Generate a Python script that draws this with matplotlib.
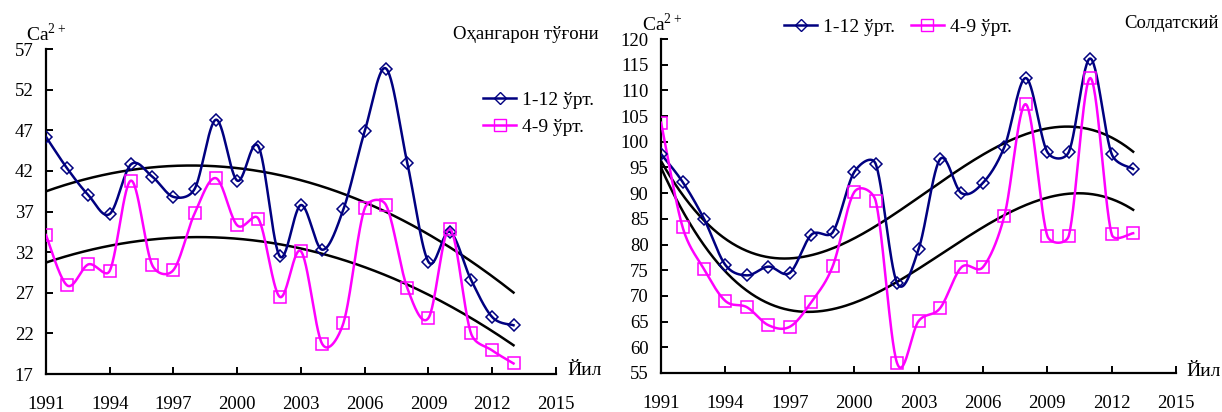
import matplotlib
matplotlib.use("Agg")
import matplotlib.pyplot as plt
import numpy as np

plt.rcParams['font.family'] = ['Liberation Serif', 'DejaVu Serif']
plt.rcParams['font.size'] = 13
plt.rcParams['mathtext.fontset'] = 'custom'
plt.rcParams['mathtext.rm'] = 'Liberation Serif'

years = list(range(1991, 2014))

# Оҳангарон тўғони
ohan_all = [46.2, 42.3, 39.0, 36.7, 42.8, 41.3, 38.8, 39.8, 48.3, 40.8, 45.0, 31.5,
            37.8, 32.3, 37.3, 46.9, 54.6, 43.0, 30.8, 34.5, 28.6, 24.0, 23.0]
ohan_veg = [34.1, 27.9, 30.5, 29.7, 40.8, 30.4, 29.8, 36.8, 41.1, 35.3, 36.1, 26.5,
            32.1, 20.7, 23.3, 37.4, 37.8, 27.6, 23.9, 34.9, 22.0, 19.9, 18.3]

# Солдатский
sold_all = [97.6, 92.2, 85.0, 76.0, 74.0, 75.7, 74.5, 81.9, 82.4, 94.1, 95.7, 72.5,
            79.1, 96.6, 90.0, 92.0, 99.0, 112.4, 98.0, 98.0, 116.2, 97.6, 94.7]
sold_veg = [103.7, 83.4, 75.2, 69.0, 67.8, 64.3, 64.0, 68.8, 75.8, 90.2, 88.5, 56.9,
            65.1, 67.6, 75.6, 75.6, 85.6, 107.3, 81.7, 81.7, 112.4, 82.0, 82.2]

label_all = '1-12 ўрт.'
label_veg = '4-9 ўрт.'
navy = '#000080'
pink = '#FF00FF'


def smooth(ax, x, y, n=30, lim=0.45):
    # bezier smoothing like excel, done in screen space
    pts = ax.transData.transform(np.column_stack([x, y]))
    P = np.vstack([pts[0], pts, pts[-1]])
    out = []
    t = np.linspace(0, 1, n, endpoint=False)[:, None]
    for i in range(1, len(P) - 2):
        p0, p1, p2, p3 = P[i - 1], P[i], P[i + 1], P[i + 2]
        d12 = np.hypot(*(p2 - p1))
        v1 = (p2 - p0) / 6
        v2 = (p3 - p1) / 6
        for v in (v1, v2):
            ln = np.hypot(*v)
            if ln > lim * d12:
                v *= lim * d12 / ln
        c1 = p1 + v1
        c2 = p2 - v2
        out.append((1 - t) ** 3 * p1 + 3 * (1 - t) ** 2 * t * c1 + 3 * (1 - t) * t ** 2 * c2 + t ** 3 * p2)
    out.append(pts[-1:])
    out = ax.transData.inverted().transform(np.vstack(out))
    return out[:, 0], out[:, 1]


def draw(ax, s_all, s_veg, deg, ylim, yticks):
    ax.set_xlim(1991, 2015)
    ax.set_ylim(*ylim)
    for vals, col, mk, ms, lab in ((s_all, navy, 'D', 6.5, label_all), (s_veg, pink, 's', 8.5, label_veg)):
        sx, sy = smooth(ax, years, vals)
        ax.plot(sx, sy, color=col, lw=1.8, zorder=3)
        ax.plot(years, vals, ls='none', marker=mk, ms=ms, mfc='none', mec=col, mew=1.1, zorder=4)
        ax.plot([], [], color=col, lw=1.8, marker=mk, ms=ms, mfc='none', mec=col, label=lab)
        c = np.polyfit(years, vals, deg)
        tx = np.linspace(years[0], years[-1], 200)
        ax.plot(tx, np.polyval(c, tx), color='black', lw=1.8, zorder=2)
    ax.set_xticks(range(1991, 2016, 3))
    ax.set_yticks(yticks)
    for s in ('top', 'right'):
        ax.spines[s].set_visible(False)
    for s in ('left', 'bottom'):
        ax.spines[s].set_linewidth(1.6)
    ax.tick_params(direction='in', length=5, width=1.4, labelsize=13.5)
    ax.tick_params(axis='x', pad=16)
    ax.tick_params(axis='y', pad=9)


fig = plt.figure(figsize=(12.22, 4.12), dpi=100)
ax1 = fig.add_axes([0.0376, 0.0922, 0.4174, 0.7888])
ax2 = fig.add_axes([0.541, 0.0947, 0.4214, 0.8106])

draw(ax1, ohan_all, ohan_veg, 2, (17, 57), range(17, 58, 5))
draw(ax2, sold_all, sold_veg, 3, (55, 120), range(55, 121, 5))

fig.text(0.021, 0.9, 'Ca$^{2+}$', fontsize=14)
fig.text(0.525, 0.925, 'Ca$^{2+}$', fontsize=14)
fig.text(0.464, 0.09, 'Йил', fontsize=14)
fig.text(0.971, 0.088, 'Йил', fontsize=14)
fig.text(0.49, 0.905, 'Оҳангарон тўғони', fontsize=13.5, ha='right')
fig.text(0.997, 0.932, 'Солдатский', fontsize=13.5, ha='right')

ax1.legend(loc='upper left', bbox_to_anchor=(0.857, 0.870), frameon=False, fontsize=14,
           handlelength=1.7, handletextpad=0.3, labelspacing=0.5, borderaxespad=0, borderpad=0)
ax2.legend(loc='upper left', bbox_to_anchor=(0.239, 1.063), frameon=False, fontsize=14, ncol=2,
           handlelength=1.7, handletextpad=0.3, columnspacing=0.8, borderaxespad=0, borderpad=0)

fig.savefig('out.png', dpi=100)
